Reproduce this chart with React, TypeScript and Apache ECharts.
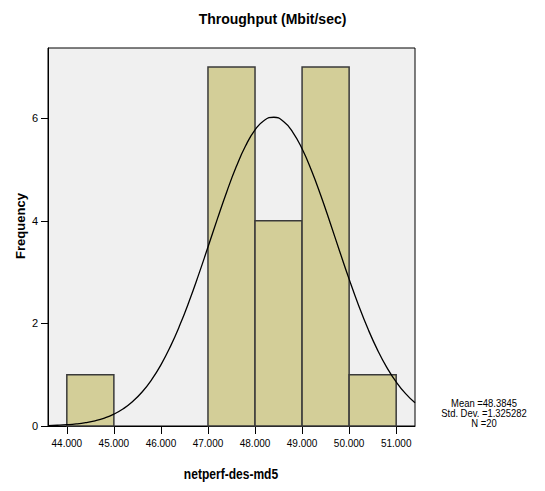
import React, { useEffect, useRef } from "react";
import * as echarts from "echarts";

const binStarts = [44, 47, 48, 49, 50];
const binEnds = [45, 48, 49, 50, 51];
const counts = [1, 7, 4, 7, 1];
const xTicks = [44, 45, 46, 47, 48, 49, 50, 51];
const yTicks = [0, 2, 4, 6];
const curveX = [43.6, 43.8, 44.0, 44.2, 44.4, 44.6, 44.8, 45.0, 45.2, 45.4, 45.6, 45.8, 46.0, 46.2, 46.4, 46.6, 46.8, 47.0, 47.2, 47.4, 47.6, 47.8, 48.0, 48.2, 48.4, 48.6, 48.8, 49.0, 49.2, 49.4, 49.6, 49.8, 50.0, 50.2, 50.4, 50.6, 50.8, 51.0, 51.2, 51.4];
const curveY = [0.009, 0.015, 0.025, 0.041, 0.066, 0.102, 0.155, 0.231, 0.336, 0.477, 0.662, 0.899, 1.193, 1.548, 1.962, 2.432, 2.946, 3.489, 4.038, 4.569, 5.053, 5.463, 5.772, 5.963, 6.020, 5.942, 5.732, 5.405, 4.982, 4.489, 3.953, 3.403, 2.864, 2.356, 1.894, 1.489, 1.144, 0.859, 0.630, 0.452];
const statsLines = ["Mean =48.3845", "Std. Dev. =1.325282", "N =20"];

const FONT = "'Liberation Sans', Arial, sans-serif";

export default function App() {
  const ref = useRef<HTMLDivElement>(null);
  useEffect(() => {
    document.body.style.margin = "0";
    if (!ref.current) return;
    const chart = echarts.init(ref.current, undefined, { renderer: "svg" });
    const barData = binStarts.map((s, i) => [s, binEnds[i], counts[i]]);
    chart.setOption({
      animation: false,
      backgroundColor: "#ffffff",
      title: {
        text: "Throughput (Mbit/sec)",
        left: "center",
        top: 7,
        textStyle: { fontFamily: FONT, fontSize: 14, fontWeight: "bold", color: "#000" },
      },
      grid: {
        left: 48,
        right: 130,
        top: 48,
        bottom: 65,
        show: true,
        backgroundColor: "#f0f0f0",
        borderColor: "#000",
        borderWidth: 1,
      },
      xAxis: {
        type: "value",
        min: 43.6,
        max: 51.4,
        axisLine: { show: true, lineStyle: { color: "#000", width: 1 } },
        axisTick: { show: true, length: 8, customValues: xTicks, lineStyle: { color: "#000" } },
        axisLabel: {
          customValues: xTicks,
          margin: 12,
          fontFamily: FONT,
          fontSize: 10,
          color: "#000",
          formatter: (v: number) => v.toFixed(3),
        },
        splitLine: { show: false },
      },
      yAxis: {
        type: "value",
        min: 0,
        max: 7.37,
        axisLine: { show: true, lineStyle: { color: "#000", width: 1 } },
        axisTick: { show: true, length: 7, customValues: yTicks, lineStyle: { color: "#000" } },
        axisLabel: { customValues: yTicks, margin: 10, fontFamily: FONT, fontSize: 11, color: "#000" },
        splitLine: { show: false },
      },
      series: [
        {
          type: "custom",
          data: barData,
          renderItem: (params: any, api: any) => {
            const p0 = api.coord([api.value(0), api.value(2)]);
            const p1 = api.coord([api.value(1), 0]);
            return {
              type: "rect",
              shape: { x: p0[0], y: p0[1], width: p1[0] - p0[0], height: p1[1] - p0[1] },
              style: { fill: "#d3ce98", stroke: "#3a3a3a", lineWidth: 1.5 },
            };
          },
          z: 2,
        },
        {
          type: "line",
          data: curveX.map((x, i) => [x, curveY[i]]),
          smooth: true,
          showSymbol: false,
          lineStyle: { color: "#000", width: 1.3 },
          z: 3,
        },
      ],
      graphic: [
        {
          type: "text",
          x: 20,
          y: 226,
          rotation: Math.PI / 2,
          style: {
            text: "Frequency",
            fontFamily: FONT,
            fontSize: 13,
            fontWeight: "bold",
            fill: "#000",
            align: "center",
            verticalAlign: "middle",
          },
        },
        {
          type: "text",
          x: 231,
          y: 474,
          scaleX: 0.86,
          style: {
            text: "netperf-des-md5",
            fontFamily: FONT,
            fontSize: 14,
            fontWeight: "bold",
            fill: "#000",
            align: "center",
            verticalAlign: "middle",
          },
        },
        {
          type: "text",
          x: 484,
          y: 413,
          scaleX: 0.9,
          style: {
            text: statsLines.join("\n"),
            fontFamily: FONT,
            fontSize: 10.5,
            lineHeight: 10,
            fill: "#000",
            align: "center",
            verticalAlign: "middle",
          },
        },
      ],
    });
    return () => chart.dispose();
  }, []);
  return <div ref={ref} style={{ width: 545, height: 491 }} />;
}
